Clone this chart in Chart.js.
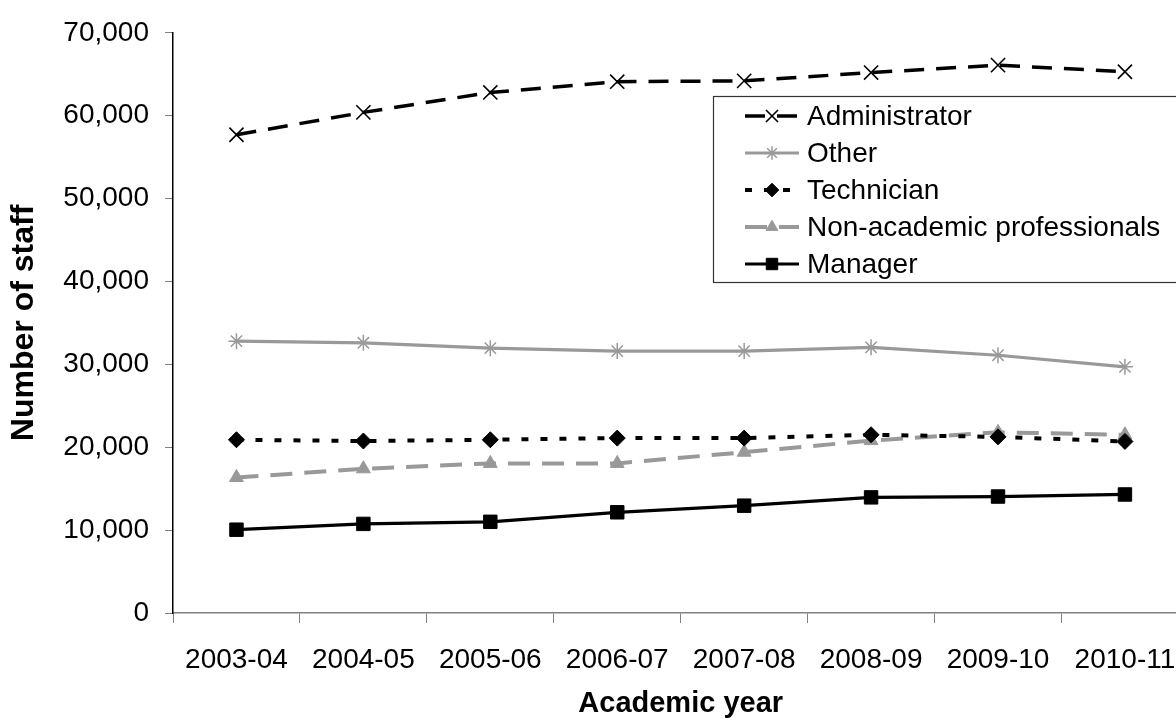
<!DOCTYPE html>
<html>
<head>
<meta charset="utf-8">
<script src="https://cdn.jsdelivr.net/npm/chart.js@4/dist/chart.umd.min.js"></script>
<style>
  html, body { margin: 0; padding: 0; background: #fff; overflow: hidden; }
  #wrap { width: 1200px; height: 718px; position: relative; }
</style>
</head>
<body>
<div id="wrap"><canvas id="c" width="1200" height="718"></canvas></div>
<script>
// Staff numbers by academic year
const years = ['2003-04', '2004-05', '2005-06', '2006-07', '2007-08', '2008-09', '2009-10', '2010-11'];
const administrator = [57700, 60400, 62800, 64100, 64200, 65200, 66100, 65300];
const other = [32800, 32600, 31950, 31600, 31600, 32050, 31100, 29700];
const technician = [20900, 20750, 20900, 21100, 21100, 21500, 21250, 20700];
const nonAcademicProfessionals = [16350, 17400, 18050, 18050, 19400, 20800, 21800, 21500];
const manager = [10050, 10750, 11000, 12150, 12950, 13950, 14050, 14300];
const yTicks = [0, 10000, 20000, 30000, 40000, 50000, 60000, 70000];

const FONT = "'Liberation Sans', Arial, Helvetica, sans-serif";
const GREY = '#999999';

const datasets = [
  { label: 'Administrator', data: administrator, borderColor: '#000', borderWidth: 3.5, borderDash: [20, 12],
    pointStyle: 'crossRot', pointRadius: 10, pointBorderWidth: 1.6, pointBorderColor: '#000', pointBackgroundColor: '#000' },
  { label: 'Other', data: other, borderColor: GREY, borderWidth: 3.2, borderDash: [],
    pointStyle: 'star', pointRadius: 8, pointBorderWidth: 1.5, pointBorderColor: GREY, pointBackgroundColor: GREY },
  { label: 'Technician', data: technician, borderColor: '#000', borderWidth: 4, borderDash: [7, 12],
    pointStyle: 'rectRot', pointRadius: 8, pointBorderWidth: 1, pointBorderColor: '#000', pointBackgroundColor: '#000' },
  { label: 'Non-academic professionals', data: nonAcademicProfessionals, borderColor: GREY, borderWidth: 4, borderDash: [22, 12],
    pointStyle: 'triangle', pointRadius: 8, pointBorderWidth: 1, pointBorderColor: GREY, pointBackgroundColor: GREY },
  { label: 'Manager', data: manager, borderColor: '#000', borderWidth: 3.2, borderDash: [],
    pointStyle: 'rect', pointRadius: 9.5, pointBorderWidth: 1, pointBorderColor: '#000', pointBackgroundColor: '#000' }
].map(d => Object.assign({ fill: false, tension: 0, pointHoverRadius: d.pointRadius }, d));

// Boxed legend drawn inside the plot, each entry shows the line style with its marker
const legendBox = { left: 713, top: 96, right: 1198, bottom: 282, firstRow: 116, rowGap: 37,
                    swatchX: 745, swatchW: 54, textX: 807 };

const boxedLegend = {
  id: 'boxedLegend',
  afterDatasetsDraw(chart) {
    const ctx = chart.ctx;
    const b = legendBox;
    ctx.save();
    ctx.fillStyle = '#fff';
    ctx.fillRect(b.left, b.top, b.right - b.left, b.bottom - b.top);
    ctx.strokeStyle = '#333';
    ctx.lineWidth = 1.2;
    ctx.strokeRect(b.left + 0.5, b.top + 0.5, b.right - b.left, b.bottom - b.top);
    chart.data.datasets.forEach((ds, i) => {
      const y = b.firstRow + i * b.rowGap;
      ctx.save();
      ctx.strokeStyle = ds.borderColor;
      ctx.lineWidth = ds.borderWidth;
      ctx.setLineDash(ds.borderDash || []);
      ctx.beginPath();
      ctx.moveTo(b.swatchX, y);
      ctx.lineTo(b.swatchX + b.swatchW, y);
      ctx.stroke();
      ctx.restore();
      ctx.save();
      ctx.setLineDash([]);
      ctx.fillStyle = ds.pointBackgroundColor;
      ctx.strokeStyle = ds.pointBorderColor;
      ctx.lineWidth = ds.pointBorderWidth;
      Chart.helpers.drawPoint(ctx, {
        pointStyle: ds.pointStyle, rotation: 0, radius: ds.pointRadius * 0.85, borderWidth: ds.pointBorderWidth
      }, b.swatchX + b.swatchW / 2, y);
      ctx.restore();
      ctx.fillStyle = '#000';
      ctx.font = '28px ' + FONT;
      ctx.textBaseline = 'middle';
      ctx.textAlign = 'left';
      ctx.fillText(ds.label, b.textX, y + 1);
    });
    ctx.restore();
  }
};

new Chart(document.getElementById('c'), {
  type: 'line',
  data: { labels: years, datasets },
  plugins: [boxedLegend],
  options: {
    responsive: false,
    animation: false,
    devicePixelRatio: 1,
    layout: { padding: { top: 31, right: 11, left: 0, bottom: 0 } },
    plugins: { legend: { display: false }, tooltip: { enabled: false } },
    scales: {
      x: {
        type: 'category',
        offset: true,
        grid: { display: true, drawOnChartArea: false, drawTicks: true, tickLength: 10, offset: true,
                color: '#808080', lineWidth: 1 },
        border: { display: true, color: '#808080', width: 1.5 },
        ticks: { color: '#000', font: { family: FONT, size: 28 }, padding: 20, maxRotation: 0, autoSkip: false },
        title: { display: true, text: 'Academic year', color: '#000',
                 font: { family: FONT, size: 29, weight: 'bold', lineHeight: 1 }, padding: { top: 0, bottom: 0 } },
        afterFit(scale) { scale.height = 105; }
      },
      y: {
        min: 0,
        max: 70000,
        afterBuildTicks(scale) { scale.ticks = yTicks.map(v => ({ value: v })); },
        grid: { display: true, drawOnChartArea: false, drawTicks: true, tickLength: 8,
                color: '#808080', lineWidth: 1 },
        border: { display: true, color: '#000', width: 1.5 },
        ticks: { color: '#000', font: { family: FONT, size: 28 }, padding: 16,
                 callback: v => Number(v).toLocaleString('en-US') },
        title: { display: true, text: 'Number of staff', color: '#000',
                 font: { family: FONT, size: 32, weight: 'bold', lineHeight: 1 }, padding: { top: 8, bottom: 0 } },
        afterFit(scale) { scale.width = 173; }
      }
    }
  }
});
</script>
</body>
</html>
